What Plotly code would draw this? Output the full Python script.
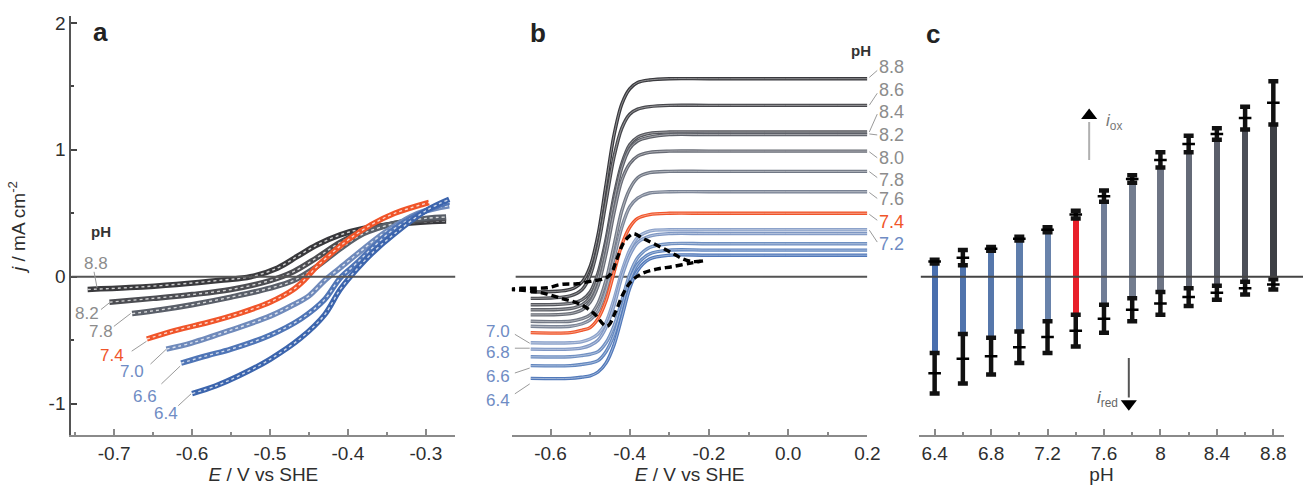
import plotly.graph_objects as go

W, H = 1316, 496

# ---------------- Panel a data (E / V, j / mA cm-2) ----------------
a_labels = ['8.8', '8.2', '7.8', '7.4', '7.0', '6.6', '6.4']
a_colors = ['#3a3a3d', '#4c4d52', '#5a5f69', '#f0552a', '#6f8abb', '#4f75b6', '#3c65ad']
a_E_88 = [-0.734, -0.68, -0.62, -0.56, -0.525, -0.49, -0.465, -0.44, -0.41, -0.38, -0.33, -0.274]
a_j_88 = [-0.10, -0.085, -0.06, -0.025, 0.0, 0.07, 0.16, 0.25, 0.33, 0.38, 0.42, 0.44]
a_E_82 = [-0.706, -0.65, -0.60, -0.55, -0.50, -0.47, -0.44, -0.41, -0.38, -0.34, -0.30, -0.274]
a_j_82 = [-0.20, -0.17, -0.14, -0.10, -0.03, 0.04, 0.15, 0.27, 0.36, 0.42, 0.45, 0.46]
a_E_78 = [-0.677, -0.64, -0.60, -0.55, -0.50, -0.47, -0.44, -0.41, -0.38, -0.34, -0.30, -0.274]
a_j_78 = [-0.29, -0.26, -0.22, -0.16, -0.09, -0.03, 0.08, 0.22, 0.34, 0.42, 0.46, 0.47]
a_E_74 = [-0.658, -0.62, -0.58, -0.54, -0.50, -0.47, -0.455, -0.44, -0.42, -0.40, -0.37, -0.34, -0.296]
a_j_74 = [-0.49, -0.42, -0.36, -0.29, -0.20, -0.10, -0.02, 0.08, 0.19, 0.29, 0.41, 0.50, 0.585]
a_E_70 = [-0.633, -0.60, -0.55, -0.50, -0.47, -0.45, -0.43, -0.41, -0.38, -0.35, -0.31, -0.27]
a_j_70 = [-0.57, -0.52, -0.42, -0.31, -0.22, -0.15, -0.03, 0.07, 0.22, 0.36, 0.50, 0.56]
a_E_66 = [-0.614, -0.58, -0.55, -0.50, -0.46, -0.43, -0.41, -0.39, -0.37, -0.34, -0.30, -0.27]
a_j_66 = [-0.68, -0.62, -0.57, -0.46, -0.33, -0.18, -0.01, 0.10, 0.22, 0.38, 0.52, 0.59]
a_E_64 = [-0.600, -0.57, -0.54, -0.50, -0.46, -0.43, -0.41, -0.39, -0.37, -0.34, -0.30, -0.27]
a_j_64 = [-0.92, -0.86, -0.78, -0.65, -0.48, -0.30, -0.10, 0.05, 0.18, 0.34, 0.52, 0.61]

# ---------------- Panel b data ----------------
b_E = [-0.65, -0.55, -0.52, -0.50, -0.48, -0.46, -0.44, -0.42, -0.40, -0.38, -0.35, -0.30, -0.20, 0.20]
b_labels = ['8.8', '8.6', '8.4', '8.2', '8.0', '7.8', '7.6', '7.4', '7.2', '7.0', '6.8', '6.6', '6.4']
b_colors = ['#3b3b3f', '#47484d', '#54565c', '#5e6168', '#686c75', '#727885', '#7b8496',
            '#f0552a', '#8ca2ca', '#7f97c4', '#7090c2', '#6186bf', '#5179ba']
b_j_88 = [-0.12, -0.10, -0.04, 0.08, 0.33, 0.72, 1.11, 1.36, 1.48, 1.53, 1.55, 1.56, 1.56, 1.56]
b_j_86 = [-0.17, -0.15, -0.10, 0.01, 0.24, 0.59, 0.94, 1.17, 1.28, 1.32, 1.34, 1.35, 1.35, 1.35]
b_j_84 = [-0.22, -0.21, -0.18, -0.12, 0.03, 0.29, 0.63, 0.89, 1.04, 1.10, 1.13, 1.14, 1.14, 1.14]
b_j_82 = [-0.26, -0.25, -0.22, -0.16, -0.01, 0.26, 0.59, 0.86, 1.01, 1.07, 1.10, 1.12, 1.12, 1.12]
b_j_80 = [-0.30, -0.29, -0.26, -0.20, -0.07, 0.18, 0.50, 0.76, 0.89, 0.95, 0.98, 0.99, 0.99, 0.99]
b_j_78 = [-0.35, -0.35, -0.33, -0.30, -0.21, -0.03, 0.24, 0.52, 0.69, 0.78, 0.82, 0.83, 0.83, 0.83]
b_j_76 = [-0.39, -0.39, -0.37, -0.34, -0.27, -0.11, 0.14, 0.39, 0.55, 0.62, 0.66, 0.67, 0.67, 0.67]
b_j_74 = [-0.44, -0.44, -0.42, -0.40, -0.33, -0.19, 0.03, 0.25, 0.39, 0.46, 0.49, 0.50, 0.50, 0.50]
b_j_72 = [-0.52, -0.52, -0.51, -0.49, -0.45, -0.36, -0.18, 0.04, 0.21, 0.31, 0.36, 0.37, 0.37, 0.37]
b_j_70 = [-0.57, -0.57, -0.56, -0.54, -0.50, -0.40, -0.23, 0.00, 0.17, 0.27, 0.32, 0.34, 0.34, 0.34]
b_j_68 = [-0.63, -0.63, -0.62, -0.61, -0.59, -0.52, -0.39, -0.19, 0.02, 0.15, 0.23, 0.26, 0.26, 0.26]
b_j_66 = [-0.70, -0.70, -0.69, -0.68, -0.66, -0.59, -0.46, -0.25, -0.03, 0.10, 0.18, 0.21, 0.21, 0.21]
b_j_64 = [-0.80, -0.80, -0.79, -0.78, -0.75, -0.68, -0.54, -0.32, -0.09, 0.05, 0.14, 0.17, 0.17, 0.17]

# dashed peak-trend lines in panel b
dash_up_E = [-0.7075, -0.6725, -0.64, -0.6075, -0.5725, -0.5325, -0.49, -0.465, -0.4475, -0.4325,
             -0.415, -0.3975, -0.39, -0.365, -0.3325, -0.2975, -0.265, -0.24, -0.215]
dash_up_j = [-0.10, -0.09, -0.09, -0.086, -0.06, -0.055, -0.03, -0.016, 0.023, 0.14,
             0.27, 0.33, 0.34, 0.30, 0.25, 0.195, 0.14, 0.12, 0.125]
dash_dn_E = [-0.7075, -0.6325, -0.5725, -0.5225, -0.49, -0.4575, -0.435, -0.4175, -0.3975,
             -0.3725, -0.3325, -0.2925, -0.2425, -0.215]
dash_dn_j = [-0.10, -0.12, -0.17, -0.22, -0.29, -0.39, -0.27, -0.14, -0.04, 0.02, 0.06,
             0.08, 0.11, 0.125]

# ---------------- Panel c data ----------------
c_pH = [6.4, 6.6, 6.8, 7.0, 7.2, 7.4, 7.6, 7.8, 8.0, 8.2, 8.4, 8.6, 8.8]
c_ox = [0.12, 0.15, 0.22, 0.30, 0.37, 0.49, 0.635, 0.77, 0.92, 1.045, 1.125, 1.25, 1.37]
c_ox_err = [0.015, 0.06, 0.015, 0.015, 0.02, 0.03, 0.045, 0.03, 0.06, 0.065, 0.045, 0.09, 0.17]
c_red = [-0.76, -0.645, -0.625, -0.555, -0.475, -0.425, -0.33, -0.26, -0.21, -0.16, -0.125, -0.09, -0.06]
c_red_err = [0.16, 0.195, 0.145, 0.125, 0.125, 0.125, 0.11, 0.09, 0.09, 0.07, 0.055, 0.05, 0.04]
c_colors = ['#4a6fae', '#5074ad', '#5677ab', '#5e7dab', '#6983ab', '#e8202a', '#707d96',
            '#737d8f', '#6d7484', '#646a77', '#5a5e6a', '#4c4f58', '#3d3f45']
c_ticks = [6.4, 6.8, 7.2, 7.6, 8.0, 8.4, 8.8]
c_ticktext = ['6.4', '6.8', '7.2', '7.6', '8', '8.4', '8.8']

FONT = 'Liberation Sans, Arial, sans-serif'
TICKC = '#2e2e2e'


def px(x):
    return x / W


def py(y):
    return 1 - y / H


fig = go.Figure()

# panel a curves
a_sets = [(a_E_88, a_j_88), (a_E_82, a_j_82), (a_E_78, a_j_78), (a_E_74, a_j_74),
          (a_E_70, a_j_70), (a_E_66, a_j_66), (a_E_64, a_j_64)]
for (E, j), col in zip(a_sets, a_colors):
    fig.add_trace(go.Scatter(x=E, y=j, mode='lines', line=dict(color=col, width=5.5, shape='spline'),
                             xaxis='x', yaxis='y', showlegend=False, hoverinfo='skip'))
    fig.add_trace(go.Scatter(x=E, y=j, mode='lines',
                             line=dict(color='white', width=1.4, dash='dot', shape='spline'),
                             opacity=0.75, xaxis='x', yaxis='y', showlegend=False, hoverinfo='skip'))

# panel b curves
b_sets = [b_j_88, b_j_86, b_j_84, b_j_82, b_j_80, b_j_78, b_j_76, b_j_74,
          b_j_72, b_j_70, b_j_68, b_j_66, b_j_64]
order = [i for i in range(len(b_sets)) if b_labels[i] != '7.4'] + [b_labels.index('7.4')]
for i in order:
    fig.add_trace(go.Scatter(x=b_E, y=b_sets[i], mode='lines',
                             line=dict(color=b_colors[i], width=3.4, shape='spline', smoothing=0.9),
                             xaxis='x2', yaxis='y2', showlegend=False, hoverinfo='skip'))
    fig.add_trace(go.Scatter(x=b_E, y=b_sets[i], mode='lines',
                             line=dict(color='white', width=0.8, shape='spline', smoothing=0.9),
                             opacity=0.55, xaxis='x2', yaxis='y2', showlegend=False, hoverinfo='skip'))

for E, j in [(dash_up_E, dash_up_j), (dash_dn_E, dash_dn_j)]:
    fig.add_trace(go.Scatter(x=E, y=j, mode='lines',
                             line=dict(color='black', width=3.4, dash='7px,4px', shape='spline'),
                             xaxis='x2', yaxis='y2', showlegend=False, hoverinfo='skip'))

# panel c bars: coloured span between the inner ends of the two error ranges
bar_lo = [r + e for r, e in zip(c_red, c_red_err)]
bar_hi = [o - e for o, e in zip(c_ox, c_ox_err)]
fig.add_trace(go.Bar(x=c_pH, y=[h - l for h, l in zip(bar_hi, bar_lo)], base=bar_lo,
                     width=0.045, marker=dict(color=c_colors, line=dict(width=0)),
                     xaxis='x3', yaxis='y3', showlegend=False, hoverinfo='skip'))
for vals, errs in [(c_ox, c_ox_err), (c_red, c_red_err)]:
    fig.add_trace(go.Scatter(x=c_pH, y=vals, mode='markers',
                             marker=dict(symbol='line-ew', size=9, color='black',
                                         line=dict(width=2.5, color='black')),
                             error_y=dict(type='data', array=errs, color='#111', thickness=4.5, width=5),
                             xaxis='x3', yaxis='y3', showlegend=False, hoverinfo='skip'))

# arrow heads in c
fig.add_trace(go.Scatter(x=[7.495], y=[1.27], mode='markers',
                         marker=dict(symbol='triangle-up', size=14, color='black'),
                         xaxis='x3', yaxis='y3', showlegend=False, hoverinfo='skip'))
fig.add_trace(go.Scatter(x=[7.776], y=[-1.0], mode='markers',
                         marker=dict(symbol='triangle-down', size=14, color='black'),
                         xaxis='x3', yaxis='y3', showlegend=False, hoverinfo='skip'))

shapes = []
# zero lines
shapes.append(dict(type='line', xref='x', yref='y', x0=-0.755, x1=-0.262, y0=0, y1=0,
                   line=dict(color='#555555', width=2), layer='above'))
shapes.append(dict(type='line', xref='x2', yref='y2', x0=-0.688, x1=0.2, y0=0, y1=0,
                   line=dict(color='#555555', width=2), layer='below'))
shapes.append(dict(type='line', xref='paper', yref='y3', x0=px(930), x1=1.0, y0=0, y1=0,
                   line=dict(color='#444444', width=2), layer='above'))
# arrow shafts in c
shapes.append(dict(type='line', xref='x3', yref='y3', x0=7.495, x1=7.495, y0=0.92, y1=1.22,
                   line=dict(color='#b0b0b0', width=2)))
shapes.append(dict(type='line', xref='x3', yref='y3', x0=7.776, x1=7.776, y0=-0.64, y1=-0.95,
                   line=dict(color='#555555', width=2)))

# leader lines (pixel coordinates)
leaders = [
    ((95, 270), (98, 286)), ((102, 308), (112, 300)), ((115, 325), (132, 312)),
    ((133, 350), (148, 340)), ((152, 363), (168, 348)), ((163, 383), (182, 365)),
    ((180, 405), (193, 393)),
    ((520, 333), (535, 342)), ((520, 347), (535, 347)), ((520, 372), (535, 367)),
    ((520, 393), (535, 383)),
    ((878, 74), (886, 67)), ((878, 102), (886, 90)), ((878, 129), (886, 111)),
    ((878, 131), (886, 132)), ((878, 149), (886, 155)), ((878, 169), (886, 175)),
    ((878, 190), (886, 196)), ((878, 212), (886, 218)), ((878, 228), (886, 240)),
]
for (x0, y0), (x1, y1) in leaders:
    shapes.append(dict(type='line', xref='paper', yref='paper', x0=px(x0), y0=py(y0),
                       x1=px(x1), y1=py(y1), line=dict(color='#9a9a9a', width=1)))

ann = []


def label(x, y, text, color='#8a8a8a', size=17, bold=False, xanchor='center'):
    t = '<b>%s</b>' % text if bold else text
    ann.append(dict(x=px(x), y=py(y), xref='paper', yref='paper', text=t, showarrow=False,
                    font=dict(family=FONT, size=size, color=color), xanchor=xanchor, yanchor='middle'))


GRAY = '#8c8c8c'
BLUE = '#6f8cc4'
RED = '#f0552a'
label(102, 28, 'a', '#222', 26, True)
label(543, 29, 'b', '#222', 26, True)
label(942, 30, 'c', '#222', 26, True)
label(102, 229, 'pH', '#333', 15, True)
label(870, 47, 'pH', '#333', 15, True)

# panel a labels
label(97, 262, '8.8', GRAY)
label(88, 312, '8.2', GRAY)
label(102, 330, '7.8', GRAY)
label(113, 354, '7.4', RED)
label(133, 370, '7.0', BLUE)
label(146, 396, '6.6', BLUE)
label(168, 413, '6.4', BLUE)

# panel b labels
label(503, 330, '7.0', BLUE)
label(503, 351, '6.8', BLUE)
label(503, 376, '6.6', BLUE)
label(503, 400, '6.4', BLUE)
for y, t, c in [(64, '8.8', GRAY), (87, '8.6', GRAY), (109, '8.4', GRAY), (132, '8.2', GRAY),
                (155, '8.0', GRAY), (177, '7.8', GRAY), (197, '7.6', GRAY), (220, '7.4', RED),
                (242, '7.2', BLUE)]:
    label(886, y, t, c, 18, False, 'left')

# panel c arrow labels
label(1125, 119, '<i>i</i><sub>ox</sub>', '#777', 17)
label(1119, 398, '<i>i</i><sub>red</sub>', '#666', 17)

axis_common = dict(showgrid=False, zeroline=False, showline=True, linewidth=2,
                   linecolor='#8a8a8a', ticks='inside', ticklen=6, tickwidth=1.5,
                   tickcolor='#8a8a8a', tickfont=dict(family=FONT, size=19, color=TICKC),
                   title_font=dict(family=FONT, size=19, color=TICKC))

Y_DOM = [61 / H, (H - 12.6) / H]
Y_RANGE = [-1.25, 2.05]

fig.update_layout(
    width=W, height=H, margin=dict(l=0, r=0, t=0, b=0),
    paper_bgcolor='white', plot_bgcolor='white', showlegend=False, bargap=0,
    shapes=shapes, annotations=ann,
    xaxis=dict(axis_common, domain=[px(72), px(460)], range=[-0.755, -0.262], anchor='y',
               tickvals=[-0.7, -0.6, -0.5, -0.4, -0.3], ticktext=['-0.7', '-0.6', '-0.5', '-0.4', '-0.3'],
               minor=dict(tickvals=[-0.75, -0.65, -0.55, -0.45, -0.35], ticklen=3, ticks='inside',
                          tickcolor='#8a8a8a'),
               title=dict(text='<i>E</i> / V vs SHE', standoff=0)),
    yaxis=dict(axis_common, domain=Y_DOM, range=Y_RANGE, anchor='x', linecolor='#555',
               tickcolor='#444', tickvals=[-1, 0, 1, 2], ticktext=['-1', '0', '1', '2'],
               minor=dict(tickvals=[-0.5, 0.5, 1.5], ticklen=3, ticks='inside', tickcolor='#444'),
               title=dict(text='<i>j</i> / mA cm<sup>-2</sup>', standoff=18)),
    xaxis2=dict(axis_common, domain=[px(517), px(876)], range=[-0.6975, 0.2], anchor='y2',
                tickvals=[-0.6, -0.4, -0.2, 0.0, 0.2], ticktext=['-0.6', '-0.4', '-0.2', '0.0', '0.2'],
                minor=dict(tickvals=[-0.5, -0.3, -0.1, 0.1], ticklen=3, ticks='inside',
                           tickcolor='#8a8a8a'),
                title=dict(text='<i>E</i> / V vs SHE', standoff=0)),
    yaxis2=dict(domain=Y_DOM, range=Y_RANGE, anchor='x2', visible=False),
    xaxis3=dict(axis_common, domain=[px(928), px(1297)], range=[6.288, 8.877], anchor='y3',
                tickvals=c_ticks, ticktext=c_ticktext,
                minor=dict(tickvals=[6.6, 7.0, 7.4, 7.8, 8.2, 8.6], ticklen=3, ticks='inside',
                           tickcolor='#8a8a8a'),
                title=dict(text='pH', standoff=0)),
    yaxis3=dict(domain=Y_DOM, range=Y_RANGE, anchor='x3', visible=False),
)

fig.write_html('out.html', config={'displayModeBar': False},
               post_script="document.body.style.margin='0px';")
